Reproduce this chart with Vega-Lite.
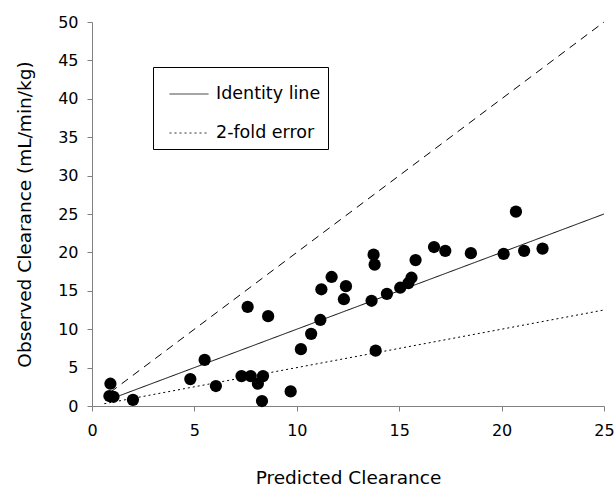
{
  "$schema": "https://vega.github.io/schema/vega-lite/v6.json",
  "width": 512,
  "height": 384,
  "autosize": "none",
  "padding": {"left": 92, "top": 22, "right": 12, "bottom": 81},
  "background": "white",
  "config": {
    "view": {"stroke": null},
    "font": "DejaVu Sans",
    "axis": {
      "grid": false,
      "domainColor": "#808080",
      "tickColor": "#808080",
      "tickSize": 5,
      "labelColor": "black",
      "titleColor": "black",
      "labelFont": "DejaVu Sans",
      "titleFont": "DejaVu Sans",
      "labelFontSize": 16,
      "titleFontSize": 18.5,
      "titleFontWeight": "normal",
      "labelOverlap": false,
      "labelFlush": false
    },
    "legend": {
      "labelFont": "DejaVu Sans",
      "labelFontSize": 17.5,
      "labelColor": "black"
    }
  },
  "datasets": {
    "points": [
      {"x": 0.9, "y": 2.9},
      {"x": 0.85, "y": 1.3},
      {"x": 1.05, "y": 1.2},
      {"x": 2.0, "y": 0.8},
      {"x": 4.8, "y": 3.5},
      {"x": 5.5, "y": 6.0},
      {"x": 6.05, "y": 2.6},
      {"x": 7.3, "y": 3.9},
      {"x": 7.6, "y": 12.9},
      {"x": 7.75, "y": 3.9},
      {"x": 8.1, "y": 2.9},
      {"x": 8.35, "y": 3.9},
      {"x": 8.3, "y": 0.65},
      {"x": 8.6, "y": 11.7},
      {"x": 9.7, "y": 1.9},
      {"x": 10.2, "y": 7.4},
      {"x": 10.7, "y": 9.4},
      {"x": 11.15, "y": 11.2},
      {"x": 11.2, "y": 15.2},
      {"x": 11.7, "y": 16.8},
      {"x": 12.3, "y": 13.9},
      {"x": 12.4, "y": 15.6},
      {"x": 13.65, "y": 13.7},
      {"x": 13.75, "y": 19.7},
      {"x": 13.8, "y": 18.4},
      {"x": 13.85, "y": 7.2},
      {"x": 14.4, "y": 14.6},
      {"x": 15.05, "y": 15.4},
      {"x": 15.45, "y": 16.0},
      {"x": 15.6, "y": 16.7},
      {"x": 15.8, "y": 19.0},
      {"x": 16.7, "y": 20.7},
      {"x": 17.25, "y": 20.2},
      {"x": 18.5, "y": 19.9},
      {"x": 20.1, "y": 19.8},
      {"x": 20.7, "y": 25.3},
      {"x": 21.1, "y": 20.2},
      {"x": 22.0, "y": 20.5}
    ],
    "lines": [
      {"x": 0.8, "y": 0.8, "line": "Identity line"},
      {"x": 25, "y": 25, "line": "Identity line"},
      {"x": 0.6, "y": 0.3, "line": "2-fold error"},
      {"x": 25, "y": 12.5, "line": "2-fold error"}
    ],
    "upper": [
      {"x": 0.9, "y": 1.8},
      {"x": 25, "y": 50}
    ]
  },
  "encoding": {
    "x": {
      "field": "x",
      "type": "quantitative",
      "scale": {"domain": [0, 25], "nice": false},
      "axis": {"values": [0, 5, 10, 15, 20, 25], "title": "Predicted Clearance", "labelPadding": 11, "titlePadding": 30}
    },
    "y": {
      "field": "y",
      "type": "quantitative",
      "scale": {"domain": [0, 50], "nice": false},
      "axis": {"values": [0, 5, 10, 15, 20, 25, 30, 35, 40, 45, 50], "title": "Observed Clearance (mL/min/kg)", "labelPadding": 9, "titlePadding": 23}
    }
  },
  "layer": [
    {
      "data": {"name": "lines"},
      "mark": {"type": "line", "color": "black", "strokeWidth": 1},
      "encoding": {
        "strokeDash": {
          "field": "line",
          "type": "nominal",
          "scale": {"domain": ["Identity line", "2-fold error"], "range": [[1, 0], [2, 3]]},
          "legend": {
            "title": null,
            "orient": "none",
            "legendX": 61,
            "legendY": 45,
            "strokeColor": "black",
            "fillColor": "white",
            "padding": 7,
            "rowPadding": 10,
            "symbolType": "stroke",
            "symbolSize": 1521,
            "symbolOffset": 9,
            "symbolStrokeWidth": 1,
            "symbolStrokeColor": "#333",
            "labelOffset": 7
          }
        }
      }
    },
    {
      "data": {"name": "upper"},
      "mark": {"type": "line", "color": "black", "strokeWidth": 1, "strokeDash": [8, 6]},
      "encoding": {}
    },
    {
      "data": {"name": "points"},
      "mark": {"type": "point", "filled": true, "color": "black", "opacity": 1, "size": 150},
      "encoding": {}
    }
  ]
}
